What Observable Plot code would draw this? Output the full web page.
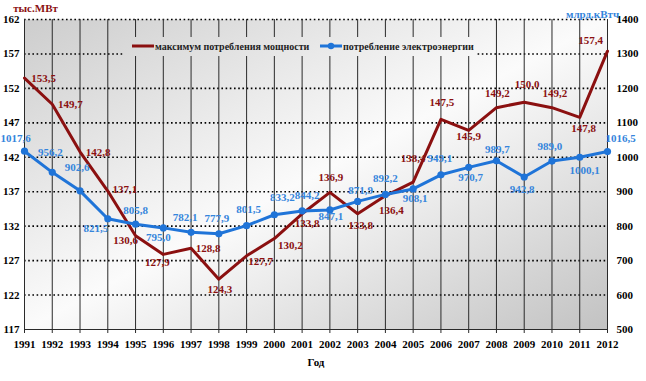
<!DOCTYPE html>
<html>
<head>
<meta charset="utf-8">
<script src="https://cdn.jsdelivr.net/npm/d3@7"></script>
<script src="https://cdn.jsdelivr.net/npm/@observablehq/plot@0.6"></script>
<style>
  html, body { margin: 0; padding: 0; background: #fff; }
  #chart svg { display: block; }
</style>
</head>
<body>
<div id="chart"></div>
<script>
// ---- data ----
const years = [1991, 1992, 1993, 1994, 1995, 1996, 1997, 1998, 1999, 2000, 2001,
               2002, 2003, 2004, 2005, 2006, 2007, 2008, 2009, 2010, 2011, 2012];
const maxPower = [153.5, 149.7, 142.8, 137.1, 130.6, 127.9, 128.8, 124.3, 127.7, 130.2, 133.8,
                  136.9, 133.8, 136.4, 138.4, 147.5, 145.9, 149.2, 150.0, 149.2, 147.8, 157.4];
const consumption = [1017.6, 956.2, 902.6, 821.5, 805.8, 795.0, 782.1, 777.9, 801.5, 833.2, 844.2,
                     847.1, 871.9, 892.2, 908.1, 949.1, 970.7, 989.7, 942.8, 989.0, 1000.1, 1016.5];
const leftTicks = [117, 122, 127, 132, 137, 142, 147, 152, 157, 162];
const rightTicks = [500, 600, 700, 800, 900, 1000, 1100, 1200, 1300, 1400];
const seriesNames = ["максимум потребления мощности", "потребление электроэнергии"];
const leftUnit = "тыс.МВт";
const rightUnit = "млрд.кВтч";
const xTitle = "Год";

// ---- label placement (layout only) ----
const redLabelOffsets = [[19,0],[18,0],[18,1],[17,-2],[-10,5],[-6,8],[17,0],[1,10],[14,6],[16,7],[5,10],
                         [1,-15],[3,12],[6,15],[0,-24],[1,-17],[0,6],[1,-14],[3,-18],[3,-14],[4,11],[-17,-11]];
const blueLabelOffsets = [[-9,-13],[-2,-20],[-3,-23],[-12,10],[0,-14],[-5,10],[-6,-15],[-2,-15],[2,-16],[8,-17],[5,-15],
                          [1,7],[3,-11],[0,-16],[2,10],[-1,-16],[2,10],[1,-11],[-2,12],[-2,-15],[5,13],[13,-13]];

// ---- layout ----
const W = 646, H = 381;
const mL = 24, mR = 39, mT = 19, mB = 52;
const RED = "#8b1010", BLUE = "#1f74d8", BLUE_TXT = "#3585dc";
const FONT = "Liberation Serif, Times New Roman, serif";

const [lMin, lMax] = [leftTicks[0], leftTicks[leftTicks.length - 1]];
const [rMin, rMax] = [rightTicks[0], rightTicks[rightTicks.length - 1]];
const toLeft = v => lMin + (v - rMin) * (lMax - lMin) / (rMax - rMin);
const fromLeft = v => rMin + (v - lMin) * (rMax - rMin) / (lMax - lMin);
const fmt = v => v.toFixed(1).replace(".", ",");

const red = years.map((y, i) => ({year: y, v: maxPower[i], i}));
const blue = years.map((y, i) => ({year: y, v: consumption[i], y2: toLeft(consumption[i]), i}));

const redLabels = red.map((d, i) => Plot.text([d], {
  x: "year", y: "v", text: d => fmt(d.v), dx: redLabelOffsets[i][0], dy: redLabelOffsets[i][1],
  fill: RED, fontSize: 11, fontWeight: "bold", textAnchor: "middle"
}));
const blueLabels = blue.map((d, i) => Plot.text([d], {
  x: "year", y: "y2", text: d => fmt(d.v), dx: blueLabelOffsets[i][0], dy: blueLabelOffsets[i][1],
  fill: BLUE_TXT, fontSize: 11, fontWeight: "bold", textAnchor: "middle"
}));

const chart = Plot.plot({
  width: W, height: H,
  marginLeft: mL, marginRight: mR, marginTop: mT, marginBottom: mB,
  style: {fontFamily: FONT, fontSize: "11px", fontWeight: "bold", background: "#fff", overflow: "visible"},
  x: {domain: [years[0], years[years.length - 1]]},
  y: {domain: [lMin, lMax]},
  marks: [
    Plot.frame({fill: "url(#bgGrad)", stroke: null}),
    Plot.ruleY(leftTicks.slice(1), {stroke: "#000", strokeWidth: 1.6, strokeDasharray: "1.6,2.6"}),
    Plot.ruleX(years, {stroke: "#2a2a2a", strokeWidth: 1}),
    Plot.ruleY([lMin], {stroke: "#2a2a2a", strokeWidth: 1}),
    Plot.axisX(years, {tickFormat: d => String(d), tickSize: 4, tickPadding: 7, label: null,
                       fontSize: 11, fontWeight: "bold", stroke: "#2a2a2a"}),
    Plot.axisY(leftTicks, {anchor: "left", tickSize: 0, tickPadding: 5, label: null,
                           tickFormat: d => String(d), fontSize: 11}),
    Plot.axisY(rightTicks.map(toLeft), {anchor: "right", tickSize: 0, tickPadding: 9, label: null,
                                        tickFormat: d => String(Math.round(fromLeft(d))), fontSize: 11}),
    Plot.lineY(red, {x: "year", y: "v", stroke: RED, strokeWidth: 3}),
    Plot.lineY(blue, {x: "year", y: "y2", stroke: BLUE, strokeWidth: 3}),
    Plot.dot(blue, {x: "year", y: "y2", r: 3.6, fill: BLUE, stroke: null}),
    ...redLabels,
    ...blueLabels,
    Plot.text([leftUnit], {frameAnchor: "top-left", text: d => d, dx: 11, dy: -15, fill: RED,
                           fontSize: 11, fontWeight: "bold", textAnchor: "middle"}),
    Plot.text([rightUnit], {frameAnchor: "top-right", text: d => d, dx: -15, dy: -9, fill: BLUE_TXT,
                            fontSize: 11, fontWeight: "bold", textAnchor: "middle"}),
    Plot.text([xTitle], {frameAnchor: "bottom", text: d => d, dy: 36, fill: "#000",
                         fontSize: 11, fontWeight: "bold"})
  ]
});

// gradient background (reflected diagonal gradient like the original)
const svg = d3.select(chart);
const pw = W - mL - mR, ph = H - mT - mB;
const cx = mL + pw / 2, cy = mT + ph / 2;
const len = Math.hypot(pw, ph);
const ux = ph / len, uy = pw / len; // perpendicular to BL->TR diagonal
const k = (pw / 2) * ux + (ph / 2) * uy;
const defs = svg.insert("defs", ":first-child");
const g = defs.append("linearGradient").attr("id", "bgGrad").attr("gradientUnits", "userSpaceOnUse")
  .attr("x1", cx - k * ux).attr("y1", cy - k * uy).attr("x2", cx + k * ux).attr("y2", cy + k * uy);
g.append("stop").attr("offset", 0).attr("stop-color", "#cdcdcd");
g.append("stop").attr("offset", 0.5).attr("stop-color", "#fbfbfb");
g.append("stop").attr("offset", 1).attr("stop-color", "#c2c2c2");

// legend (inside plot)
const lg = svg.append("g").attr("font-family", FONT).attr("font-weight", "bold")
  .attr("font-size", 10).attr("text-anchor", "start");
lg.append("rect").attr("x", 123).attr("y", 37).attr("width", 353).attr("height", 19).attr("fill", "url(#bgGrad)");
lg.append("line").attr("x1", 132).attr("x2", 154).attr("y1", 46).attr("y2", 46).attr("stroke", RED).attr("stroke-width", 3);
lg.append("text").attr("x", 155).attr("y", 46).attr("dy", "0.35em").attr("fill", "#222")
  .style("text-anchor", "start").text(seriesNames[0]);
lg.append("line").attr("x1", 320).attr("x2", 342).attr("y1", 46).attr("y2", 46).attr("stroke", BLUE).attr("stroke-width", 3);
lg.append("circle").attr("cx", 331).attr("cy", 46).attr("r", 3.2).attr("fill", BLUE);
lg.append("text").attr("x", 343).attr("y", 46).attr("dy", "0.35em").attr("fill", "#222")
  .style("text-anchor", "start").text(seriesNames[1]);

document.getElementById("chart").appendChild(chart);
</script>
</body>
</html>
